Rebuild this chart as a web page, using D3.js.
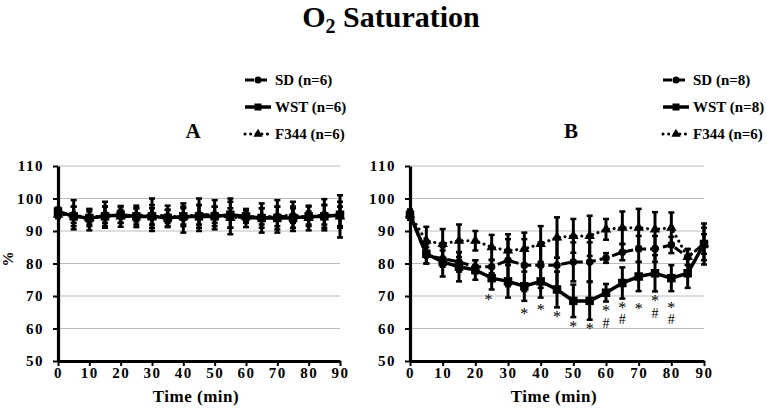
<!DOCTYPE html>
<html><head><meta charset="utf-8">
<script src="https://cdn.jsdelivr.net/npm/d3@7"></script>
</head><body style="margin:0;background:#fff">
<svg id="c" width="767" height="410" style="display:block"></svg>
<script>
// ---------- data ----------
const times = [0,5,10,15,20,25,30,35,40,45,50,55,60,65,70,75,80,85,90];
const xTicks = [0,10,20,30,40,50,60,70,80,90];
const yTicks = [50,60,70,80,90,100,110];
const seriesNames = ["SD","WST","F344"];
const legendA = ["SD (n=6)","WST (n=6)","F344 (n=6)"];
const legendB = ["SD (n=8)","WST (n=8)","F344 (n=6)"];

// Panel A
const aSD      = [95.5,95,93.5,95,94.5,94.5,95,94.5,94,95,95,94.5,94,94,94.5,94.5,94,95,94.5];
const aSDErr   = [1.5,4.5,3.3,4,3.2,3.3,5,3.3,4.5,5,4.5,5.5,2.8,4.5,5,4.5,3.8,4.8,6.5];
const aWST     = [96,94.5,94,94.5,95,94.5,94.5,94,94.5,94.5,94.5,95,94.5,94,94,94,94.5,94.5,95];
const aWSTErr  = [1.2,3,2.5,3,2.5,2.5,3.5,2.5,3,3.5,3,4,2,3,3.5,3,3,3.5,4];
const aF344    = [95,95,94,95,94.5,95,94.5,94.5,94.5,95,95,94,94.5,94.5,94.5,95,94,95,94.5];
const aF344Err = [1,2.5,2,2.5,2,2,2.5,2,2.5,3,2.5,3,1.8,2.5,3,2.5,2,3,3];

// Panel B
const bSD      = [95,82.5,81.5,80.5,79,79,81,79.5,79.5,79.5,80.5,80.5,81.7,83.5,84.5,84.5,85.7,82,86];
const bSDErr   = [1.5,2.5,2.5,3,2,2,8,8,7,8,6,6,1.5,2.5,4,4,2.5,2.4,5];
const bWST     = [95,83,80.5,79,78,75.5,74.5,73,74.5,72,68.5,68.5,71,74,76,77,75.5,77,86];
const bWSTErr  = [1.5,3,4.5,4.5,3,3.5,5,4.5,5,5.5,5,5.8,2.7,4.8,4.5,5.6,4,4.5,6.3];
const bF344    = [95,87,86,87,87,85,84,84.5,86,88,88.5,88.5,90.5,91,91,90.5,91,82,86];
const bF344Err = [1.5,4.3,4.6,5,3,3.8,3.5,5,5.5,6.2,5.2,6.2,3.2,5,5.8,5.3,4.7,2.5,3];

// significance marks (panel B)
const starTimes  = [24,35,40,45,50,55,60,65,70,75,80];
const starValues = [69.6,65.5,66.7,64.5,61.4,60.9,66.2,67.2,67,69.3,67.2];
const hashTimes  = [60,65,75,80];
const hashValues = [61.8,62.8,64.8,62.8];

// ---------- drawing ----------
const FONT = '"Liberation Serif"';
const svg = d3.select("#c");
const yTop = 166, yBot = 361;
const styles = {
  SD:   {dash:"9,4", width:3, marker:"circle"},
  WST:  {dash:null,  width:3.5, marker:"square"},
  F344: {dash:"0.1,5.5", width:3, marker:"triangle"}
};
function txt(sel, size, bold){
  return sel.style("font-family",FONT).style("font-size",size+"px").style("font-weight",bold?"bold":"normal").style("fill","#000");
}

function drawMarker(g, type, cx, cy, s){
  if(type==="circle") g.append("circle").attr("cx",cx).attr("cy",cy).attr("r",s*0.5).attr("fill","#000");
  else if(type==="square") g.append("rect").attr("x",cx-s*0.5).attr("y",cy-s*0.5).attr("width",s).attr("height",s).attr("fill","#000");
  else g.append("path").attr("d",d3.symbol(d3.symbolTriangle, s*s*0.75)()).attr("transform",`translate(${cx},${cy})`).attr("fill","#000");
}

function panel(opts){
  const x = d3.scaleLinear().domain([0,90]).range([opts.x0, opts.x1]);
  const y = d3.scaleLinear().domain([50,110]).range([yBot, yTop]);
  const g = svg.append("g");

  g.selectAll(".grid").data(yTicks.filter(v=>v>50)).enter().append("line")
    .attr("x1",opts.x0).attr("x2",opts.x1).attr("y1",d=>y(d)).attr("y2",d=>y(d))
    .attr("stroke","#bdbdbd").attr("stroke-width",1);

  opts.series.forEach(s=>{
    const st = styles[s.name];
    const line = d3.line().x((d,i)=>x(times[i])).y(d=>y(d));
    g.append("path").datum(s.vals).attr("d",line).attr("fill","none")
      .attr("stroke","#000").attr("stroke-width",st.width)
      .attr("stroke-dasharray",st.dash).attr("stroke-linecap", s.name==="F344"?"round":"butt");
  });
  opts.series.forEach(s=>{
    const st = styles[s.name];
    s.vals.forEach((v,i)=>{
      const cx = x(times[i]), e = s.err[i];
      g.append("line").attr("x1",cx).attr("x2",cx).attr("y1",y(v+e)).attr("y2",y(v-e)).attr("stroke","#000").attr("stroke-width",3);
      [v+e,v-e].forEach(w=>g.append("line").attr("x1",cx-3).attr("x2",cx+3).attr("y1",y(w)).attr("y2",y(w)).attr("stroke","#000").attr("stroke-width",2.5));
      drawMarker(g, st.marker, cx, y(v), st.marker==="square"?8.5:(st.marker==="circle"?7.5:8));
    });
  });

  const ya = g.append("g").attr("transform",`translate(${opts.x0},0)`)
    .call(d3.axisLeft(y).tickValues(yTicks).tickSizeInner(5).tickSizeOuter(0).tickPadding(9));
  const xa = g.append("g").attr("transform",`translate(0,${yBot})`)
    .call(d3.axisBottom(x).tickValues(xTicks).tickSizeInner(5).tickSizeOuter(0).tickPadding(1));
  [ya,xa].forEach(a=>{
    a.select(".domain").attr("stroke","#000").attr("stroke-width",3.2);
    a.selectAll(".tick line").attr("stroke","#000").attr("stroke-width",2);
    txt(a.selectAll(".tick text"),15,true).style("letter-spacing","1.5px");
  });

  txt(g.append("text").attr("x",(opts.x0+opts.x1)/2-3).attr("y",402).attr("text-anchor","middle"),17,true)
    .style("letter-spacing","0.5px").text("Time (min)");

  txt(g.append("text").attr("x",opts.letterX).attr("y",138).attr("text-anchor","middle"),21,true).text(opts.letter);

  opts.legend.forEach((lab,i)=>{
    const st = styles[seriesNames[i]];
    const ly = 80 + i*27;
    g.append("line").attr("x1",opts.legX).attr("x2",opts.legX+26).attr("y1",ly).attr("y2",ly)
      .attr("stroke","#000").attr("stroke-width",st.width).attr("stroke-dasharray",st.dash)
      .attr("stroke-linecap", seriesNames[i]==="F344"?"round":"butt");
    drawMarker(g, st.marker, opts.legX+13, ly, 7);
    txt(g.append("text").attr("x",opts.legX+30).attr("y",ly+5),15,true).text(lab);
  });
  return {x,y,g};
}

const pA = panel({x0:58, x1:340, letter:"A", letterX:193, legX:245, legend:legendA,
  series:[{name:"F344",vals:aF344,err:aF344Err},{name:"SD",vals:aSD,err:aSDErr},{name:"WST",vals:aWST,err:aWSTErr}]});
const pB = panel({x0:410, x1:704, letter:"B", letterX:571, legX:663, legend:legendB,
  series:[{name:"F344",vals:bF344,err:bF344Err},{name:"SD",vals:bSD,err:bSDErr},{name:"WST",vals:bWST,err:bWSTErr}]});

starTimes.forEach((t,i)=>txt(pB.g.append("text").attr("x",pB.x(t)).attr("y",pB.y(starValues[i])+8)
  .attr("text-anchor","middle"),16,false).text("*"));
hashTimes.forEach((t,i)=>txt(pB.g.append("text").attr("x",pB.x(t)).attr("y",pB.y(hashValues[i])+5)
  .attr("text-anchor","middle"),14,false).text("#"));

txt(svg.append("text").attr("transform","translate(13,259) rotate(-90)").attr("text-anchor","middle"),15,true).text("%");

const title = txt(svg.append("text").attr("x",391).attr("y",27).attr("text-anchor","middle"),30,true);
title.append("tspan").text("O");
title.append("tspan").style("font-size","20px").attr("dy",6).text("2");
title.append("tspan").attr("dy",-6).text(" Saturation");
</script>
</body></html>
